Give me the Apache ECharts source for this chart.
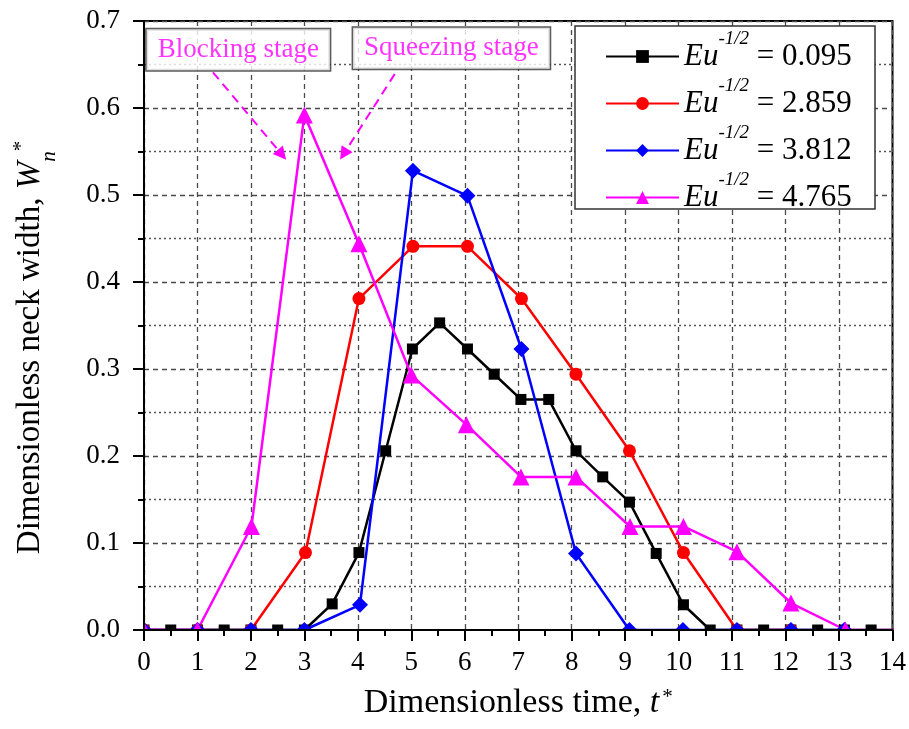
<!DOCTYPE html>
<html>
<head>
<meta charset="utf-8">
<script src="https://cdn.jsdelivr.net/npm/echarts@6/dist/echarts.min.js"></script>
<style>
  html, body { margin: 0; padding: 0; background: #ffffff; }
  #chart { width: 909px; height: 729px; }
</style>
</head>
<body>
<div id="chart"></div>
<script>
const FONT = '"Liberation Serif", "Times New Roman", Times, serif';

// Eu^-1/2 of each run
const euValues = ['0.095', '2.859', '3.812', '4.765'];

// Eu^-1/2 = 0.095
const tBlack = [0, 0.5, 1, 1.5, 2, 2.5, 3, 3.52, 4.02, 4.52, 5.02, 5.53, 6.05, 6.55, 7.05, 7.57, 8.08, 8.58, 9.08, 9.58, 10.09, 10.59, 11.09, 11.59, 12.1, 12.6, 13.1, 13.6, 14.1];
const wBlack = [0, 0, 0, 0, 0, 0, 0, 0.030, 0.089, 0.206, 0.323, 0.353, 0.323, 0.294, 0.265, 0.265, 0.206, 0.176, 0.147, 0.088, 0.029, 0, 0, 0, 0, 0, 0, 0, 0];

// Eu^-1/2 = 2.859
const tRed = [0, 1, 2, 3.02, 4.02, 5.03, 6.05, 7.06, 8.08, 9.08, 10.09, 11.09, 12.1];
const wRed = [0, 0, 0, 0.089, 0.381, 0.441, 0.441, 0.381, 0.294, 0.206, 0.089, 0, 0];

// Eu^-1/2 = 3.812
const tBlue = [0, 1, 2, 3, 4.04, 5.03, 6.05, 7.06, 8.08, 9.08, 10.08, 11.09, 12.1, 13.1];
const wBlue = [0, 0, 0, 0, 0.029, 0.528, 0.499, 0.323, 0.088, 0, 0, 0, 0, 0];

// Eu^-1/2 = 4.765
const tPink = [0, 1, 2.01, 3.0, 4.02, 5.0, 6.03, 7.05, 8.08, 9.09, 10.09, 11.09, 12.1, 13.12, 14.13];
const wPink = [0, 0, 0.119, 0.592, 0.444, 0.293, 0.236, 0.176, 0.176, 0.119, 0.119, 0.090, 0.031, 0, 0];

// axis ranges
const xRange = { min: 0, max: 14, interval: 1 };
const yRange = { min: 0, max: 0.7, interval: 0.1 };

// stage annotations: label anchor (t, W) and dashed arrow from / to
const stageText = ['Blocking stage', 'Squeezing stage'];
const stageAnchor = [[1.763, 0.667], [5.75, 0.6686]];
const arrowFrom = [[1.29, 0.641], [4.69, 0.639]];
const arrowTo = [[2.581, 0.5463], [3.733, 0.547]];

const pairs = (xs, ys) => xs.map((x, i) => [x, ys[i]]);
const names = euValues.map(v => 'Eu-1/2 = ' + v);

const looks = [
  { color: '#000000', symbol: 'rect', size: 11 },
  { color: '#ff0000', symbol: 'circle', size: 13 },
  { color: '#0000ff', symbol: 'diamond', size: 16 },
  { color: '#ff00ff', symbol: 'triangle', size: 17 }
];
const dataSets = [pairs(tBlack, wBlack), pairs(tRed, wRed), pairs(tBlue, wBlue), pairs(tPink, wPink)];

const lineSeries = dataSets.map((d, i) => ({
  name: names[i],
  type: 'line',
  xAxisIndex: 0,
  yAxisIndex: 0,
  data: d,
  clip: true,
  symbol: looks[i].symbol,
  symbolSize: looks[i].size,
  showAllSymbol: true,
  lineStyle: { color: looks[i].color, width: 2.5 },
  itemStyle: { color: looks[i].color, borderWidth: 0 },
  emphasis: { disabled: true },
  animation: false,
  z: 2
}));

const chart = echarts.init(document.getElementById('chart'));

const gridLineMajor = { color: '#4a4a4a', width: 1.3, type: [5, 4] };
const gridLineMinor = { color: '#555555', width: 1.3, type: [2, 3] };
const tickLabel = { color: '#000', fontFamily: FONT, fontSize: 27 };

chart.setOption({
  animation: false,
  backgroundColor: '#ffffff',
  grid: {
    left: 144, right: 16, top: 21, bottom: 99,
    show: true, borderColor: '#000', borderWidth: 2, backgroundColor: 'transparent'
  },
  xAxis: [
    {
      // gridlines behind the data
      type: 'value', min: xRange.min, max: xRange.max, interval: xRange.interval,
      axisLine: { show: false }, axisTick: { show: false }, axisLabel: { show: false },
      splitLine: { show: true, lineStyle: gridLineMajor },
      z: 0
    },
    {
      // frame, ticks and labels above the data
      type: 'value', position: 'bottom', min: xRange.min, max: xRange.max, interval: xRange.interval,
      axisLine: { show: true, onZero: false, lineStyle: { color: '#000', width: 2 } },
      axisTick: { show: true, length: 11, lineStyle: { color: '#000', width: 2 } },
      minorTick: { show: true, splitNumber: 2, length: 6, lineStyle: { color: '#000', width: 2 } },
      axisLabel: Object.assign({ margin: 19 }, tickLabel),
      splitLine: { show: false },
      name: '{m|Dimensionless time, }{it|t}{sup|*}',
      nameLocation: 'middle',
      nameGap: 56,
      nameTextStyle: {
        color: '#000', fontFamily: FONT, fontSize: 34,
        rich: {
          m: { fontFamily: FONT, fontSize: 34, color: '#000' },
          it: { fontFamily: FONT, fontSize: 34, fontStyle: 'italic', color: '#000' },
          sup: { fontFamily: FONT, fontSize: 21, color: '#000', padding: [0, 0, 12, 3] }
        }
      },
      z: 10
    }
  ],
  yAxis: [
    {
      type: 'value', min: yRange.min, max: yRange.max, interval: yRange.interval,
      axisLine: { show: false }, axisTick: { show: false }, axisLabel: { show: false },
      splitLine: { show: true, lineStyle: gridLineMajor },
      minorTick: { show: false, splitNumber: 2 },
      minorSplitLine: { show: true, lineStyle: gridLineMinor },
      z: 0
    },
    {
      type: 'value', position: 'left', min: yRange.min, max: yRange.max, interval: yRange.interval,
      axisLine: { show: true, onZero: false, lineStyle: { color: '#000', width: 2 } },
      axisTick: { show: true, length: 11, lineStyle: { color: '#000', width: 2 } },
      minorTick: { show: true, splitNumber: 2, length: 6, lineStyle: { color: '#000', width: 2 } },
      axisLabel: Object.assign({ margin: 24, formatter: v => v.toFixed(1) }, tickLabel),
      splitLine: { show: false },
      name: '{m|Dimensionless neck width, }{it|W}{sub|n}{sup|*}',
      nameLocation: 'middle',
      nameRotate: 90,
      nameGap: 84,
      nameTextStyle: {
        color: '#000', fontFamily: FONT, fontSize: 33,
        rich: {
          m: { fontFamily: FONT, fontSize: 33, color: '#000' },
          it: { fontFamily: FONT, fontSize: 33, fontStyle: 'italic', color: '#000' },
          sub: { fontFamily: FONT, fontSize: 21, fontStyle: 'italic', color: '#000', padding: [38, 0, 0, 0] },
          sup: { fontFamily: FONT, fontSize: 21, color: '#000', padding: [0, 44, 18, 0] }
        }
      },
      z: 10
    }
  ],
  legend: {
    data: names,
    orient: 'vertical',
    left: 605,
    top: 29,
    padding: 0,
    itemGap: 4,
    itemWidth: 73,
    itemHeight: 16,
    selectedMode: false,
    z: 6,
    formatter: name => '{it|Eu}{sup|-1/2}{n| = ' + name.split('= ')[1] + '}',
    textStyle: {
      color: '#000', fontFamily: FONT, fontSize: 31,
      rich: {
        it: { fontFamily: FONT, fontSize: 31, fontStyle: 'italic', color: '#000', padding: [12, 0, 12, 0] },
        sup: { fontFamily: FONT, fontSize: 19, fontStyle: 'italic', color: '#000', lineHeight: 19, verticalAlign: 'top' },
        n: { fontFamily: FONT, fontSize: 31, color: '#000', padding: [12, 0, 12, 0] }
      }
    }
  },
  graphic: [
    // legend frame
    { type: 'rect', z: 5, silent: true, shape: { x: 575, y: 26, width: 300, height: 183 },
      style: { fill: '#ffffff', stroke: '#333333', lineWidth: 1.5 } },
    // white margins that trim markers to the plot frame
    { type: 'rect', z: 4, silent: true, shape: { x: 120, y: 631, width: 789, height: 16 }, style: { fill: '#ffffff' } },
    { type: 'rect', z: 4, silent: true, shape: { x: 120, y: 0, width: 23, height: 647 }, style: { fill: '#ffffff' } }
  ],
  series: lineSeries.concat([
    {
      type: 'lines',
      coordinateSystem: 'cartesian2d',
      xAxisIndex: 0, yAxisIndex: 0,
      silent: true,
      symbol: ['none', 'triangle'],
      symbolSize: 13,
      lineStyle: { color: '#ff00ff', width: 2, type: [9, 6], opacity: 1 },
      data: arrowFrom.map((p, i) => ({ coords: [p, arrowTo[i]] })),
      z: 3
    },
    {
      type: 'scatter',
      xAxisIndex: 0, yAxisIndex: 0,
      silent: true,
      symbolSize: 0,
      data: stageAnchor,
      label: {
        show: true,
        position: 'inside',
        formatter: p => stageText[p.dataIndex],
        color: '#ff00ff',
        fontFamily: FONT,
        fontSize: 27,
        backgroundColor: '#ffffff',
        borderColor: '#333333',
        borderWidth: 1.5,
        padding: [8, 11, 6, 11]
      },
      z: 3
    }
  ])
});
</script>
</body>
</html>
